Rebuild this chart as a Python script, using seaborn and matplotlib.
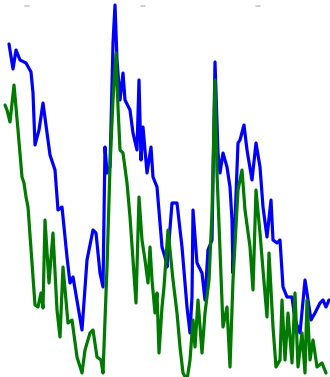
import numpy as np
import pandas as pd
import matplotlib
matplotlib.use("Agg")
import matplotlib.pyplot as plt
import seaborn as sns

# values (x position, height)
blue_t = [9, 13, 16, 20, 26, 31, 33, 35, 39, 43, 50, 55, 58, 62, 67, 70, 73, 82,
          87, 93, 96, 100, 103, 105, 107, 110, 113, 115, 117, 120, 123, 125, 130,
          133, 137, 139, 141, 143, 147, 151, 153, 157, 162, 165, 167, 172, 177,
          182, 187, 190, 192, 193, 197, 202, 205, 208, 212, 215, 218, 220, 223,
          227, 230, 232, 233, 238, 240, 244, 247, 252, 256, 260, 263, 267, 271,
          273, 277, 280, 283, 287, 292, 295, 300, 305, 307, 311, 315, 320, 323,
          326, 329]
blue_v = [333, 308, 327, 317, 314, 305, 284, 232, 247, 274, 222, 207, 167, 170,
          120, 94, 100, 47, 117, 147, 144, 104, 90, 230, 204, 210, 334, 372, 317,
          277, 304, 277, 267, 244, 227, 297, 217, 250, 204, 230, 200, 190, 130,
          120, 110, 174, 174, 130, 70, 44, 80, 167, 114, 104, 77, 127, 137, 315,
          224, 204, 224, 210, 190, 157, 104, 234, 237, 252, 227, 197, 234, 210,
          170, 140, 177, 137, 134, 137, 90, 80, 80, 57, 44, 97, 84, 57, 64, 74,
          77, 70, 77]

green_t = [5, 7, 10, 14, 18, 22, 24, 26, 28, 32, 35, 38, 41, 43, 45, 49, 53, 57,
           60, 63, 68, 72, 77, 82, 85, 90, 93, 97, 101, 103, 107, 110, 113, 116,
           118, 120, 123, 127, 130, 133, 136, 139, 142, 145, 148, 150, 152, 155,
           157, 159, 162, 164, 168, 170, 173, 177, 180, 183, 187, 190, 193, 195,
           198, 202, 205, 209, 212, 215, 217, 223, 227, 230, 233, 238, 242, 245,
           250, 253, 256, 260, 263, 267, 269, 273, 276, 280, 282, 285, 288, 292,
           295, 298, 302, 305, 307, 310, 313, 317, 322, 326]
green_v = [272, 267, 255, 292, 247, 200, 194, 180, 170, 114, 72, 70, 84, 69, 157,
           94, 144, 67, 40, 110, 54, 57, 20, 4, 27, 44, 47, 20, 17, 4, 110, 210,
           277, 324, 270, 227, 224, 194, 160, 117, 74, 180, 137, 117, 94, 130, 97,
           64, 84, 24, 70, 90, 147, 127, 97, 64, 30, 4, -3, 17, 57, 30, 77, 24, 64,
           97, 164, 297, 204, 50, 70, 10, 97, 187, 207, 167, 130, 87, 187, 144,
           107, 60, 124, 50, 10, 17, 77, 17, 64, 14, 84, 10, 44, 4, 77, 17, 37,
           10, 14, 4]

df = pd.concat([
    pd.DataFrame({"t": blue_t, "v": blue_v, "s": "blue"}),
    pd.DataFrame({"t": green_t, "v": green_v, "s": "green"}),
])

sns.set_style("white")
fig = plt.figure(figsize=(3.3, 3.77), dpi=100)
ax = fig.add_axes([0, 0, 1, 1])
sns.lineplot(data=df, x="t", y="v", hue="s", palette={"blue": "#0000ff", "green": "#007a00"},
             estimator=None, sort=False, linewidth=2.3, legend=False, ax=ax)
ax.set_xlim(0, 330)
ax.set_ylim(0, 377)
ax.axis("off")

# faint tick marks at the top edge
for tx in [27, 143, 258]:
    ax.plot([tx - 2, tx + 2], [371, 371], color="#c8c8c8", linewidth=1.2)

fig.savefig("out.png", dpi=100)
